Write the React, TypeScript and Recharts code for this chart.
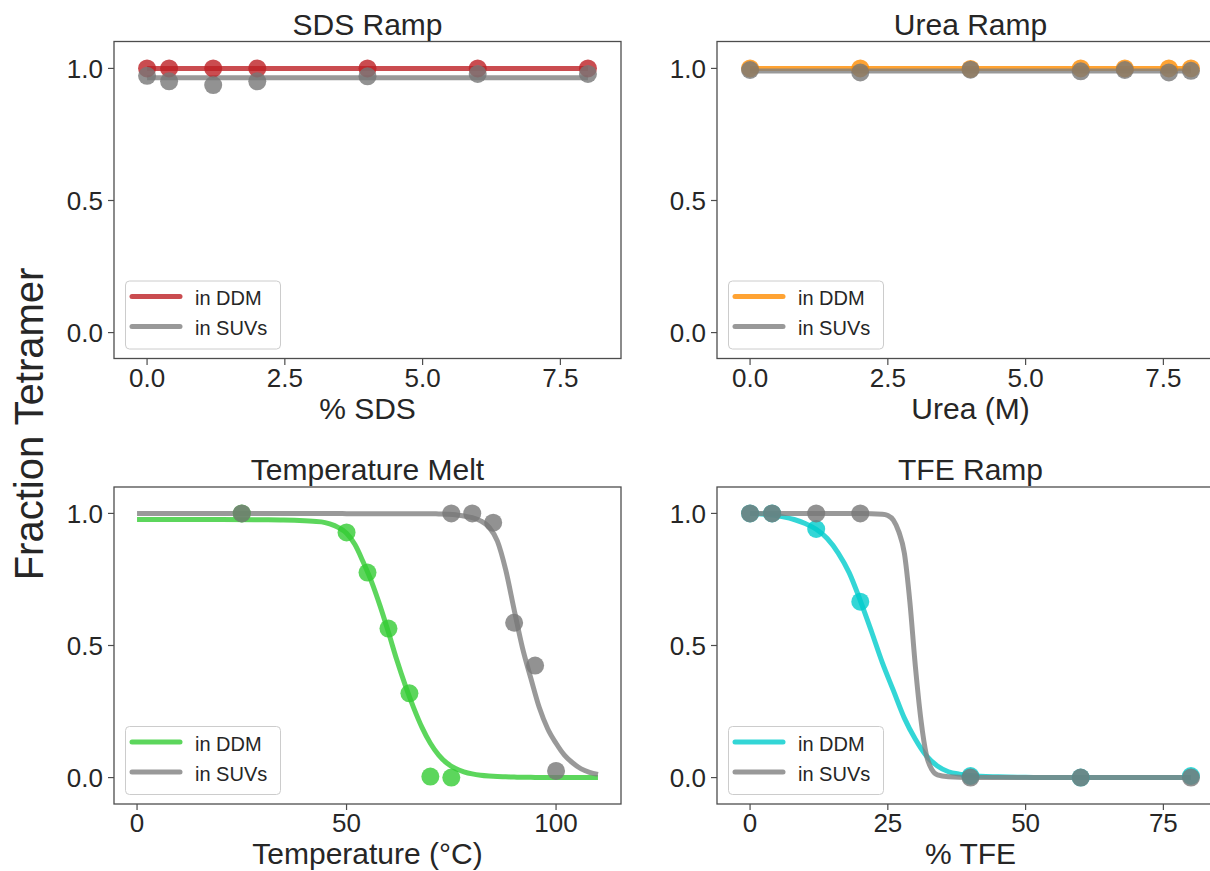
import React from "react";
import { ComposedChart, Line, Scatter, XAxis, YAxis } from "recharts";

// SDS ramp
const sdsX = [0, 0.4, 1.2, 2, 4, 6, 8];
const sdsDdm = [1.0, 1.0, 1.0, 1.0, 1.0, 1.0, 1.0];
const sdsSuv = [0.972, 0.951, 0.937, 0.951, 0.97, 0.979, 0.979];
const sdsFitX = [0, 8];
const sdsFitDdm = [1.0, 1.0];
const sdsFitSuv = [0.965, 0.965];

// Urea ramp
const ureaX = [0, 2, 4, 6, 6.8, 7.6, 8];
const ureaDdm = [1.0, 1.0, 0.998, 1.0, 1.0, 1.0, 1.0];
const ureaSuv = [0.994, 0.985, 0.995, 0.989, 0.994, 0.985, 0.991];
const ureaFitX = [0, 8];
const ureaFitDdm = [1.0, 1.0];
const ureaFitSuv = [0.99, 0.99];

// Temperature melt
const tempDdmX = [25, 50, 55, 60, 65, 70, 75];
const tempDdm = [1.0, 0.928, 0.776, 0.564, 0.319, 0.004, 0.0];
const tempSuvX = [25, 75, 80, 85, 90, 95, 100];
const tempSuv = [1.0, 1.0, 1.0, 0.965, 0.586, 0.424, 0.025];
const tempFitX = [0, 10, 20, 30, 35, 40, 44, 46, 48, 50, 52, 54, 56, 58, 60, 62, 64, 66, 68, 70, 72, 74, 76, 78, 80, 82, 84, 86, 88, 90, 92, 94, 96, 98, 100, 102, 104, 106, 108, 110];
const tempFitDdm = [0.977, 0.977, 0.977, 0.976, 0.975, 0.972, 0.968, 0.96, 0.947, 0.925, 0.882, 0.815, 0.74, 0.65, 0.55, 0.445, 0.35, 0.265, 0.19, 0.13, 0.085, 0.054, 0.034, 0.022, 0.014, 0.009, 0.006, 0.004, 0.003, 0.002, 0.001, 0.001, 0, 0, 0, 0, 0, 0, 0, 0];
const tempFitSuv = [1.0, 1.0, 1.0, 1.0, 1.0, 1.0, 1.0, 1.0, 1.0, 0.999, 0.999, 0.999, 0.999, 0.999, 0.999, 0.999, 0.999, 0.999, 0.999, 0.999, 0.998, 0.997, 0.995, 0.99, 0.984, 0.972, 0.948, 0.895, 0.785, 0.635, 0.49, 0.375, 0.265, 0.185, 0.13, 0.085, 0.055, 0.033, 0.02, 0.012];

// TFE ramp
const tfeX = [0, 4, 12, 20, 40, 60, 80];
const tfeDdm = [1.0, 1.0, 0.941, 0.666, 0.006, 0.0, 0.006];
const tfeSuv = [1.0, 1.0, 1.0, 1.0, 0.0, 0.0, 0.0];
const tfeFitDdmX = [0, 2, 4, 6, 8, 10, 12, 14, 16, 18, 20, 22, 24, 26, 28, 30, 32, 34, 36, 38, 40, 45, 50, 60, 70, 80];
const tfeFitDdm = [1.0, 0.998, 0.994, 0.987, 0.977, 0.962, 0.94, 0.905, 0.85, 0.775, 0.67, 0.555, 0.435, 0.33, 0.225, 0.145, 0.082, 0.044, 0.022, 0.013, 0.008, 0.003, 0.001, 0, 0, 0];
const tfeFitSuvX = [0, 10, 20, 24, 25, 26, 27, 28, 29, 30, 31, 32, 33, 34, 36, 40, 50, 60, 70, 80];
const tfeFitSuv = [1.0, 1.0, 1.0, 0.997, 0.992, 0.975, 0.93, 0.85, 0.665, 0.42, 0.22, 0.085, 0.03, 0.01, 0.003, 0, 0, 0, 0, 0];

const yTicks = [0, 0.5, 1.0];
const smallTicks = [0, 2.5, 5, 7.5];
const tempTicks = [0, 50, 100];
const tfeTicks = [0, 25, 50, 75];

const FONT = '"Liberation Sans", Arial, Helvetica, sans-serif';
const INK = "#262626";
const SPINE = "#4d4d4d";
const GRAY = "#777777";

const PW = 507;
const PH = 317;
const YW = 90;
const XH = 50;

const zip = (xs: number[], ys: number[]) => xs.map((x, i) => ({ x, y: ys[i] }));

type PanelProps = {
  left: number;
  top: number;
  domain: [number, number];
  ticks: number[];
  fmt: (v: number) => string;
  color: string;
  ddm: { x: number; y: number }[];
  suv: { x: number; y: number }[];
  fitDdm: { x: number; y: number }[];
  fitSuv: { x: number; y: number }[];
};

const dot = (color: string) => (p: any) => (
  <circle cx={p.cx} cy={p.cy} r={9} fill={color} fillOpacity={0.8} />
);

function Panel(p: PanelProps) {
  return (
    <div style={{ position: "absolute", left: p.left - YW, top: p.top - 10 }}>
      <ComposedChart
        width={YW + PW + 12}
        height={10 + PH + XH}
        margin={{ top: 10, right: 12, bottom: 0, left: 0 }}
      >
        <XAxis
          type="number"
          dataKey="x"
          domain={p.domain}
          ticks={p.ticks}
          allowDataOverflow
          tickFormatter={p.fmt}
          axisLine={false}
          tickLine={{ stroke: SPINE, strokeWidth: 1.2 }}
          tickSize={6}
          tickMargin={4}
          height={XH}
          tick={{ fill: INK, fontSize: 26, fontFamily: FONT }}
        />
        <YAxis
          type="number"
          dataKey="y"
          domain={[-0.1, 1.1]}
          ticks={yTicks}
          allowDataOverflow
          tickFormatter={(v: number) => v.toFixed(1)}
          axisLine={false}
          tickLine={{ stroke: SPINE, strokeWidth: 1.2 }}
          tickSize={6}
          tickMargin={5}
          width={YW}
          tick={{ fill: INK, fontSize: 26, fontFamily: FONT }}
        />
        <Line data={p.fitDdm} dataKey="y" type="monotone" stroke={p.color} strokeOpacity={0.8} strokeWidth={5} dot={false} isAnimationActive={false} />
        <Line data={p.fitSuv} dataKey="y" type="monotone" stroke="#808080" strokeOpacity={0.8} strokeWidth={5} dot={false} isAnimationActive={false} />
        <Scatter data={p.ddm} dataKey="y" shape={dot(p.color)} isAnimationActive={false} />
        <Scatter data={p.suv} dataKey="y" shape={dot(GRAY)} isAnimationActive={false} />
      </ComposedChart>
    </div>
  );
}

function Decor({ left, top, title, xlabel, color }: { left: number; top: number; title: string; xlabel: string; color: string }) {
  const cx = left + PW / 2;
  return (
    <g fontFamily={FONT} fill={INK}>
      <rect x={left} y={top} width={PW} height={PH} fill="none" stroke={SPINE} strokeWidth={1.3} />
      <text x={cx} y={top - 7} textAnchor="middle" fontSize={30}>{title}</text>
      <text x={cx} y={top + PH + 60} textAnchor="middle" fontSize={30}>{xlabel}</text>
      <rect x={left + 11.5} y={top + 239.5} width={155} height={68} rx={4} fill="#ffffff" fillOpacity={0.8} stroke="#cccccc" strokeWidth={1} />
      <line x1={left + 18} x2={left + 66} y1={top + 255} y2={top + 255} stroke={color} strokeOpacity={0.8} strokeWidth={5} strokeLinecap="round" />
      <line x1={left + 18} x2={left + 66} y1={top + 285} y2={top + 285} stroke="#808080" strokeOpacity={0.8} strokeWidth={5} strokeLinecap="round" />
      <text x={left + 81} y={top + 263.5} fontSize={20}>in DDM</text>
      <text x={left + 81} y={top + 293.5} fontSize={20}>in SUVs</text>
    </g>
  );
}

const f1 = (v: number) => v.toFixed(1);
const f0 = (v: number) => String(v);

const RED = "#bd1f24";
const ORANGE = "#ff8c00";
const GREEN = "#33cc33";
const CYAN = "#00cccc";

const L1 = 114;
const L2 = 717;
const T1 = 41.5;
const T2 = 487;

export default function App() {
  return (
    <div style={{ position: "fixed", left: 0, top: 0, width: 1210, height: 871, overflow: "hidden", background: "#fff" }}>
      <Panel left={L1} top={T1} domain={[-0.6, 8.6]} ticks={smallTicks} fmt={f1} color={RED}
        ddm={zip(sdsX, sdsDdm)} suv={zip(sdsX, sdsSuv)} fitDdm={zip(sdsFitX, sdsFitDdm)} fitSuv={zip(sdsFitX, sdsFitSuv)} />
      <Panel left={L2} top={T1} domain={[-0.6, 8.6]} ticks={smallTicks} fmt={f1} color={ORANGE}
        ddm={zip(ureaX, ureaDdm)} suv={zip(ureaX, ureaSuv)} fitDdm={zip(ureaFitX, ureaFitDdm)} fitSuv={zip(ureaFitX, ureaFitSuv)} />
      <Panel left={L1} top={T2} domain={[-5.5, 115.5]} ticks={tempTicks} fmt={f0} color={GREEN}
        ddm={zip(tempDdmX, tempDdm)} suv={zip(tempSuvX, tempSuv)} fitDdm={zip(tempFitX, tempFitDdm)} fitSuv={zip(tempFitX, tempFitSuv)} />
      <Panel left={L2} top={T2} domain={[-6, 86]} ticks={tfeTicks} fmt={f0} color={CYAN}
        ddm={zip(tfeX, tfeDdm)} suv={zip(tfeX, tfeSuv)} fitDdm={zip(tfeFitDdmX, tfeFitDdm)} fitSuv={zip(tfeFitSuvX, tfeFitSuv)} />
      <svg width={1240} height={871} style={{ position: "absolute", left: 0, top: 0, pointerEvents: "none" }}>
        <Decor left={L1} top={T1} title="SDS Ramp" xlabel="% SDS" color={RED} />
        <Decor left={L2} top={T1} title="Urea Ramp" xlabel="Urea (M)" color={ORANGE} />
        <Decor left={L1} top={T2} title="Temperature Melt" xlabel="Temperature (°C)" color={GREEN} />
        <Decor left={L2} top={T2} title="TFE Ramp" xlabel="% TFE" color={CYAN} />
        <text transform="translate(43,424) rotate(-90)" textAnchor="middle" fontSize={40} fontFamily={FONT} fill={INK}>
          Fraction Tetramer
        </text>
      </svg>
    </div>
  );
}
